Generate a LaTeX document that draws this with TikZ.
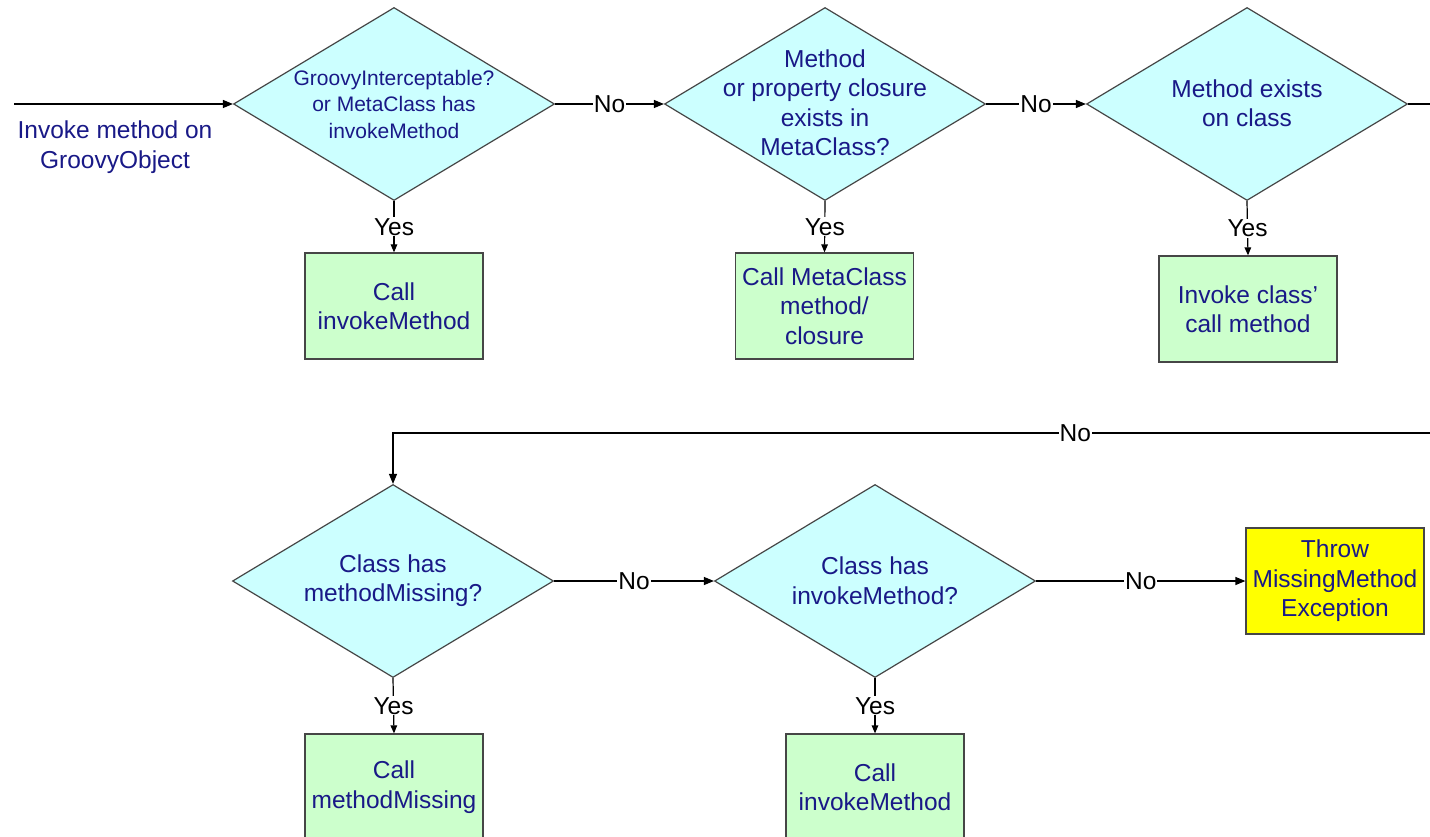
\documentclass[tikz,border=0pt]{standalone}
\usepackage{fontspec}
\setmainfont{Liberation Sans}
\usetikzlibrary{shapes.geometric,arrows.meta}
\definecolor{txtblue}{RGB}{25,25,135}
\definecolor{diafill}{RGB}{204,255,255}
\definecolor{boxfill}{RGB}{204,255,204}
\definecolor{yel}{RGB}{255,255,0}
\definecolor{edgegray}{RGB}{70,70,70}
\begin{document}
\begin{tikzpicture}[x=1pt,y=-1pt,
  bigfont/.style={font=\fontsize{24.5}{29.5}\selectfont},
  dia/.style={diamond, draw=edgegray, line width=1.2pt, fill=diafill,
    minimum width=321pt, minimum height=193pt, inner sep=0pt},
  dtext/.style={bigfont, align=center, text=txtblue, inner sep=0pt},
  proc/.style={rectangle, draw=edgegray, line width=1.2pt, fill=boxfill,
    minimum width=178pt, minimum height=106pt, inner sep=0pt,
    align=center, text=txtblue, bigfont},
  warnbox/.style={proc, fill=yel},
  conn/.style={draw=black, line width=1.2pt},
  arr/.style={conn, -{Triangle[length=10pt,width=8pt]}},
  smallarr/.style={conn, -{Triangle[length=8pt,width=6.5pt]}},
  lab/.style={fill=white, inner sep=1pt, bigfont, text=black}]
\path[use as bounding box, clip] (0,0) rectangle (1430,837);
\fill[white] (0,0) rectangle (1430,837);

% top row
\node[dia] (d1) at (394,104) {};
\node[dtext, font=\fontsize{21}{26.5}\selectfont] (t1) at (d1.center) {GroovyInterceptable?\\or MetaClass has\\invokeMethod};
\node[dia] (d2) at (825,104) {};
\node[dtext] (t2) at (825,102.5) {Method\\or property closure\\exists in\\MetaClass?};
\node[dia] (d3) at (1247,104) {};
\node[dtext] (t3) at (1247,103) {Method exists\\on class};

\node[proc] (b1) at (394,306) {Call\\invokeMethod};
\node[proc] (b2) at (824.5,306) {Call MetaClass\\method/\\closure};
\node[proc] (b3) at (1248,309) {Invoke class’\\call method};

\coordinate (s) at (14,104);
\node[dtext] (start) at (115,147) {Invoke method on\\GroovyObject};
\coordinate (e1) at (1430,104);

\draw[arr] (s) -- (d1.west);
\draw[arr] (d1.east) -- node[lab] {No} (d2.west);
\draw[arr] (d2.east) -- node[lab] {No} (d3.west);
\draw[conn] (d3.east) -- (e1);
\draw[smallarr] (d1.south) -- node[lab] {Yes} (b1.north);
\draw[smallarr] (d2.south) -- node[lab] {Yes} (b2.north);
\draw[smallarr] (d3.south) -- node[lab] {Yes} (b3.north);

% bottom row
\node[dia] (d4) at (393,581) {};
\node[dtext] (t4) at (393,580.5) {Class has\\methodMissing?};
\node[dia] (d5) at (875,581) {};
\node[dtext] (t5) at (875,580.5) {Class has\\invokeMethod?};
\node[warnbox] (y) at (1335,581) {Throw\\MissingMethod\\Exception};
\node[proc] (b4) at (394,787) {Call\\methodMissing};
\node[proc] (b5) at (875,787) {Call\\invokeMethod};

\coordinate (e2) at (1430,433);
\draw[arr] (e2) -- node[lab, pos=0.342] {No} (e2 -| d4.north) -- (d4.north);
\draw[arr] (d4.east) -- node[lab] {No} (d5.west);
\draw[arr] (d5.east) -- node[lab] {No} (y.west);
\draw[smallarr] (d4.south) -- node[lab] {Yes} (b4.north);
\draw[smallarr] (d5.south) -- node[lab] {Yes} (b5.north);
\end{tikzpicture}
\end{document}
